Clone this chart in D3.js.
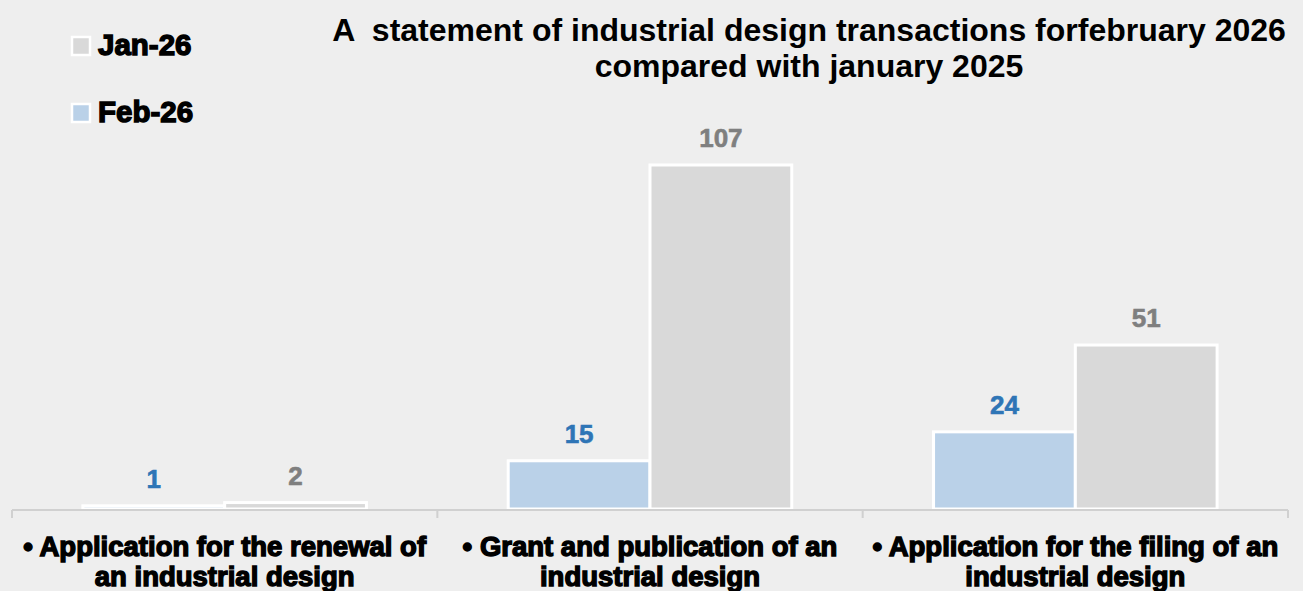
<!DOCTYPE html>
<html>
<head>
<meta charset="utf-8">
<script src="https://cdn.jsdelivr.net/npm/d3@7"></script>
<style>
  html, body { margin: 0; padding: 0; background: #eeeeee; }
  svg { display: block; }
  .heavy { font-family: "Liberation Sans", Arial, sans-serif; font-weight: bold; }
</style>
</head>
<body>
<div id="chart"></div>
<script>
const width = 1303, height = 591;

// data
const categories = [
  ["• Application for the renewal of", "an industrial design"],
  ["• Grant and publication of an", "industrial design"],
  ["• Application for the filing of an", "industrial design"]
];
const seriesNames = ["Feb-26", "Jan-26"];
const feb26 = [1, 15, 24];
const jan26 = [2, 107, 51];
const legendOrder = ["Jan-26", "Feb-26"];

const fills = { "Feb-26": "#bad1e8", "Jan-26": "#d9d9d9" };
const labelColors = { "Feb-26": "#2e75b6", "Jan-26": "#7f7f7f" };

const rows = categories.map((c, i) => ({ cat: i, lines: c, values: { "Feb-26": feb26[i], "Jan-26": jan26[i] } }));

const margin = { left: 12, right: 15, bottom: 82 };
const baseY = height - margin.bottom; // ~509

let svg = d3.select("#chart")
  .append("svg")
  .attr("width", width)
  .attr("height", height);

svg.append("rect").attr("width", width).attr("height", height).attr("fill", "#eeeeee");

let x0 = d3.scaleBand()
  .domain(rows.map(d => d.cat))
  .range([margin.left, width - margin.right])
  .paddingInner(0)
  .paddingOuter(0);

let x1 = d3.scaleBand()
  .domain(seriesNames)
  .range([0, x0.bandwidth()])
  .paddingOuter(0.5)
  .paddingInner(0);

let y = d3.scaleLinear()
  .domain([0, 107])
  .range([baseY, 165]);

// bars
let groups = svg.append("g").selectAll("g")
  .data(rows)
  .join("g")
  .attr("transform", d => "translate(" + x0(d.cat) + ",0)");

groups.selectAll("rect")
  .data(d => seriesNames.map(s => ({ s, v: d.values[s] })))
  .join("rect")
  .attr("x", d => x1(d.s))
  .attr("y", d => y(d.v))
  .attr("width", x1.bandwidth())
  .attr("height", d => y(0) - y(d.v))
  .attr("fill", d => fills[d.s])
  .attr("stroke", "#ffffff")
  .attr("stroke-width", 3);

groups.selectAll("text.val")
  .data(d => seriesNames.map(s => ({ s, v: d.values[s] })))
  .join("text")
  .attr("class", "val")
  .attr("x", d => x1(d.s) + x1.bandwidth() / 2)
  .attr("y", d => y(d.v) - 18)
  .attr("text-anchor", "middle")
  .attr("font-family", "Liberation Sans, Arial, sans-serif")
  .attr("font-weight", "bold")
  .attr("font-size", 26)
  .attr("fill", d => labelColors[d.s])
  .attr("stroke", d => labelColors[d.s])
  .attr("stroke-width", 0.6)
  .text(d => d.v);

// axis
let axis = svg.append("g").attr("transform", "translate(0," + (baseY + 1) + ")");
axis.append("line")
  .attr("x1", x0.range()[0]).attr("x2", x0.range()[1])
  .attr("stroke", "#d0d0d0").attr("stroke-width", 2);
const tickXs = rows.map(d => x0(d.cat)).concat([x0.range()[1]]);
axis.selectAll("line.tick")
  .data(tickXs)
  .join("line")
  .attr("class", "tick")
  .attr("x1", d => d).attr("x2", d => d)
  .attr("y1", 0).attr("y2", 8)
  .attr("stroke", "#d0d0d0").attr("stroke-width", 2);

// category labels
let catLabels = svg.append("g").selectAll("text")
  .data(rows)
  .join("text")
  .attr("class", "heavy")
  .attr("text-anchor", "middle")
  .attr("font-size", 27.5)
  .attr("fill", "#000")
  .attr("stroke", "#000")
  .attr("stroke-width", 1.4)
  .attr("transform", d => "translate(" + (x0(d.cat) + x0.bandwidth() / 2) + ",0)");

catLabels.selectAll("tspan")
  .data(d => d.lines)
  .join("tspan")
  .attr("x", 0)
  .attr("y", (d, i) => 556 + i * 30)
  .text(d => d);

// title
let title = svg.append("text")
  .attr("text-anchor", "middle")
  .attr("font-family", "Liberation Sans, Arial, sans-serif")
  .attr("font-weight", "bold")
  .attr("font-size", 32)
  .style("white-space", "pre")
  .attr("fill", "#000");
title.append("tspan").attr("x", 809).attr("y", 41).text("A  statement of industrial design transactions forfebruary 2026");
title.append("tspan").attr("x", 809).attr("y", 77).text("compared with january 2025");

// legend
let legend = svg.append("g").selectAll("g")
  .data(legendOrder)
  .join("g")
  .attr("transform", (d, i) => "translate(72," + (37 + i * 67) + ")");

legend.append("rect")
  .attr("width", 18).attr("height", 18)
  .attr("fill", d => fills[d])
  .attr("stroke", "#ffffff").attr("stroke-width", 2.5);

legend.append("text")
  .attr("class", "heavy")
  .attr("x", 26).attr("y", 18)
  .attr("font-size", 29.5)
  .attr("fill", "#000")
  .attr("stroke", "#000")
  .attr("stroke-width", 1.4)
  .text(d => d);
</script>
</body>
</html>
